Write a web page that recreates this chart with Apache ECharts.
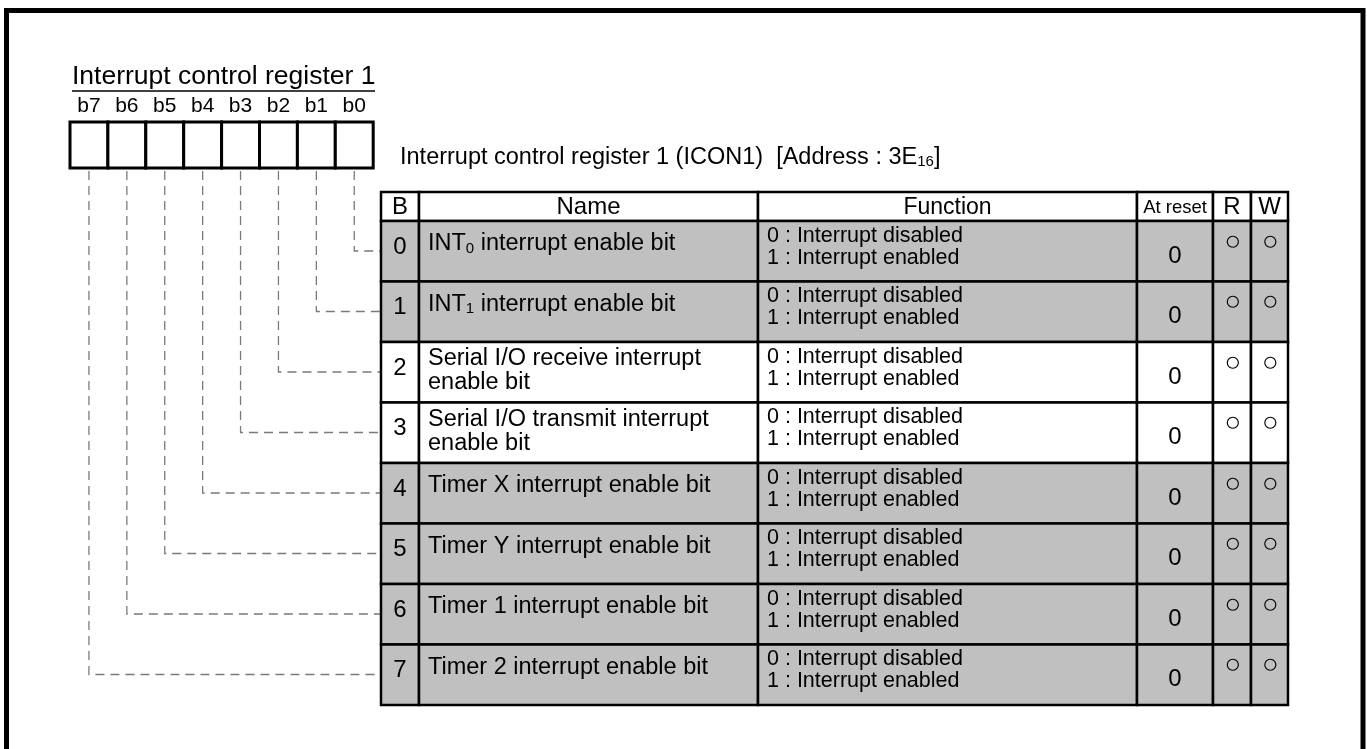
<!DOCTYPE html>
<html>
<head>
<meta charset="utf-8">
<script src="https://cdn.jsdelivr.net/npm/echarts@6/dist/echarts.min.js"></script>
<style>
html,body{margin:0;padding:0;background:#fff;}
#chart{width:1367px;height:749px;}
</style>
</head>
<body>
<div id="chart"></div>
<script>
// ---- data ----
const registerTitle = 'Interrupt control register 1';
const tableTitle = 'Interrupt control register 1 (ICON1)  [Address : 3E{s|16}]';
const bitLabels = ['b7', 'b6', 'b5', 'b4', 'b3', 'b2', 'b1', 'b0'];
const headerLabels = ['B', 'Name', 'Function', 'At reset', 'R', 'W'];
const bitNumbers = ['0', '1', '2', '3', '4', '5', '6', '7'];
const bitNames = [
  'INT{s|0} interrupt enable bit',
  'INT{s|1} interrupt enable bit',
  'Serial I/O receive interrupt\nenable bit',
  'Serial I/O transmit interrupt\nenable bit',
  'Timer X interrupt enable bit',
  'Timer Y interrupt enable bit',
  'Timer 1 interrupt enable bit',
  'Timer 2 interrupt enable bit'
];
const functionOff = [
  '0 : Interrupt disabled', '0 : Interrupt disabled', '0 : Interrupt disabled', '0 : Interrupt disabled',
  '0 : Interrupt disabled', '0 : Interrupt disabled', '0 : Interrupt disabled', '0 : Interrupt disabled'
];
const functionOn = [
  '1 : Interrupt enabled', '1 : Interrupt enabled', '1 : Interrupt enabled', '1 : Interrupt enabled',
  '1 : Interrupt enabled', '1 : Interrupt enabled', '1 : Interrupt enabled', '1 : Interrupt enabled'
];
const resetValues = ['0', '0', '0', '0', '0', '0', '0', '0'];
const readFlags = ['○', '○', '○', '○', '○', '○', '○', '○'];
const writeFlags = ['○', '○', '○', '○', '○', '○', '○', '○'];

// ---- layout & style (not data) ----
const L = {
  cols: [381, 419, 758, 1137, 1213, 1251, 1288],
  headTop: 192, rowTop: 221, rowH: 60.5,
  regLeft: 70, regTop: 122, regBottom: 168, regCell: 37.9,
  shaded: [true, true, false, false, true, true, true, true]
};
const FONT = '"Liberation Sans", Arial, Helvetica, sans-serif';
const GRAY = '#c0c0c0';
const DASH = '#7a7a7a';

function txt(api, x, y, text, size, align, vAlign, extra) {
  const p = api.coord([x, y]);
  return {
    type: 'text',
    style: Object.assign({
      x: p[0], y: p[1], text: text, fill: '#000',
      fontSize: size, fontFamily: FONT,
      align: align || 'left', verticalAlign: vAlign || 'middle'
    }, extra || {})
  };
}
function box(api, x0, y0, x1, y1, fill, lw) {
  const a = api.coord([x0, y0]), b = api.coord([x1, y1]);
  return {
    type: 'rect',
    shape: { x: a[0], y: a[1], width: b[0] - a[0], height: b[1] - a[1] },
    style: { fill: fill, stroke: '#000', lineWidth: lw }
  };
}

function renderRegister(params, api) {
  const j = api.value(0);
  const x0 = L.regLeft + j * L.regCell, x1 = x0 + L.regCell, cx = (x0 + x1) / 2;
  const row = 7 - j;
  const cy = L.rowTop + row * L.rowH + 30;
  const pts = [[cx, L.regBottom + 3], [cx, cy], [L.cols[0], cy]].map(q => api.coord(q));
  return {
    type: 'group',
    children: [
      { type: 'polyline', shape: { points: pts },
        style: { stroke: DASH, lineWidth: 1.3, lineDash: [9, 6], fill: null } },
      box(api, x0, L.regTop, x1, L.regBottom, '#fff', 3),
      txt(api, cx, 106, bitLabels[j], 21, 'center', 'middle')
    ]
  };
}

function renderHeader(params, api) {
  const c = L.cols, t = L.headTop, b = L.rowTop, my = (t + b) / 2 + 1;
  const kids = [];
  for (let k = 0; k < 6; k++) kids.push(box(api, c[k], t, c[k + 1], b, '#fff', 2.5));
  const sizes = [24, 24, 23, 18.5, 24, 24];
  for (let k = 0; k < 6; k++) {
    kids.push(txt(api, (c[k] + c[k + 1]) / 2, my, headerLabels[k], sizes[k], 'center', 'middle'));
  }
  return { type: 'group', children: kids };
}

function renderRow(params, api) {
  const i = api.value(0);
  const c = L.cols, top = L.rowTop + i * L.rowH, bot = top + L.rowH;
  const fill = L.shaded[i] ? GRAY : '#fff';
  const kids = [];
  for (let k = 0; k < 6; k++) kids.push(box(api, c[k], top, c[k + 1], bot, fill, 2.5));
  kids.push(txt(api, (c[0] + c[1]) / 2, top + 26, bitNumbers[i], 24, 'center', 'middle'));
  const twoLine = bitNames[i].indexOf('\n') >= 0;
  kids.push(txt(api, c[1] + 9, twoLine ? top + 29 : top + 23, bitNames[i], 23.5, 'left', 'middle', {
    lineHeight: 24,
    rich: { s: { fontSize: 15, fontFamily: FONT, padding: [9, 0, 0, 0], lineHeight: 24 } }
  }));
  kids.push(txt(api, c[2] + 9, top + 15, functionOff[i], 21.5, 'left', 'middle'));
  kids.push(txt(api, c[2] + 9, top + 37, functionOn[i], 21.5, 'left', 'middle'));
  kids.push(txt(api, (c[3] + c[4]) / 2, top + 35, resetValues[i], 24, 'center', 'middle'));
  kids.push(txt(api, (c[4] + c[5]) / 2 + 1, top + 21, readFlags[i], 28, 'center', 'middle'));
  kids.push(txt(api, (c[5] + c[6]) / 2 + 1, top + 21, writeFlags[i], 28, 'center', 'middle'));
  return { type: 'group', children: kids };
}

function renderTitles(params, api) {
  const a = api.coord([72, 91]), b = api.coord([375, 91]);
  return {
    type: 'group',
    children: [
      txt(api, 72, 77, registerTitle, 26.5, 'left', 'middle'),
      { type: 'line', shape: { x1: a[0], y1: a[1], x2: b[0], y2: b[1] }, style: { stroke: '#000', lineWidth: 1.5 } },
      txt(api, 400, 158, tableTitle, 23.5, 'left', 'middle', {
        rich: { s: { fontSize: 15, fontFamily: FONT, padding: [8, 0, 0, 0] } }
      })
    ]
  };
}

function renderFrame(params, api) {
  const a = api.coord([6.5, 10.5]), b = api.coord([1363, 780]);
  return {
    type: 'rect',
    shape: { x: a[0], y: a[1], width: b[0] - a[0], height: b[1] - a[1] },
    style: { fill: null, stroke: '#000', lineWidth: 5 }
  };
}

const chart = echarts.init(document.getElementById('chart'), null, { renderer: 'canvas' });
chart.setOption({
  animation: false,
  backgroundColor: '#fff',
  grid: { left: 0, right: 0, top: 0, bottom: 0 },
  xAxis: { type: 'value', min: 0, max: 1367, show: false },
  yAxis: { type: 'value', min: 0, max: 749, inverse: true, show: false },
  series: [
    { type: 'custom', renderItem: renderFrame, data: [[0]], silent: true, clip: false },
    { type: 'custom', renderItem: renderTitles, data: [[0]], silent: true },
    { type: 'custom', renderItem: renderRegister, data: bitLabels.map((b, j) => [j]), silent: true },
    { type: 'custom', renderItem: renderHeader, data: [[0]], silent: true },
    { type: 'custom', renderItem: renderRow, data: bitNumbers.map((b, i) => [i]), silent: true }
  ]
});
</script>
</body>
</html>
